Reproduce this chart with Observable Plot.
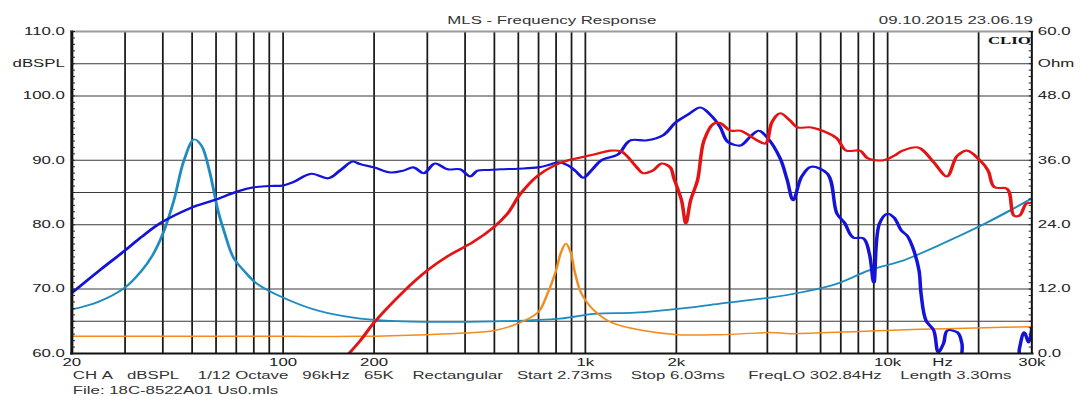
<!DOCTYPE html>
<html><head><meta charset="utf-8">
<script src="https://cdn.jsdelivr.net/npm/d3@7"></script>
<script src="https://cdn.jsdelivr.net/npm/@observablehq/plot@0.6"></script>
<style>
html,body{margin:0;padding:0;background:#fff;}
#chart svg{display:block;}
</style></head><body><div id="chart"></div>
<script>
// ---- data ----
const titleText = "MLS - Frequency Response";
const dateText = "09.10.2015 23.06.19";
const infoLine1 = "CH A   dBSPL    1/12 Octave   96kHz   65K    Rectangular   Start 2.73ms    Stop 6.03ms     FreqLO 302.84Hz    Length 3.30ms";
const infoLine2 = "File: 18C-8522A01 Us0.mls";

const xTickValues = [20, 50, 100, 200, 500, 1000, 2000, 5000, 10000, 15200, 30000];
const xTickLabels = ["20", "50", "100", "200", "500", "1k", "2k", "5k", "10k", "Hz", "30k"];
const gridFreqs = [30, 40, 50, 60, 70, 80, 90, 100, 200, 300, 400, 500, 600, 700, 800, 900, 1000,
  2000, 3000, 4000, 5000, 6000, 7000, 8000, 9000, 10000, 20000];
const dbTickValues = [60, 70, 80, 90, 100, 105, 110];
const dbTickLabels = ["60.0", "70.0", "80.0", "90.0", "100.0", "dBSPL", "110.0"];
const gridDb = [65, 70, 80, 85, 90, 100, 105];
const ohmTickValues = [0, 12, 24, 36, 48, 54, 60];
const ohmTickLabels = ["0.0", "12.0", "24.0", "36.0", "48.0", "Ohm", "60.0"];

// blue: SPL (woofer)
const blueFreq = [20, 25, 30, 34, 38.5, 44, 50, 59, 71, 80, 90, 100, 108, 124, 141, 155, 170, 180, 200,
  227, 250, 270, 292, 318, 350, 385, 416, 440, 480, 525, 600, 699, 760, 812, 878, 930, 984, 1050, 1130,
  1280, 1410, 1600, 1810, 1990, 2200, 2400, 2600, 2790, 2970, 3260, 3500, 3740, 4020, 4410, 4650, 4870,
  5200, 5600, 6300, 6800, 7200, 7700, 8300, 8700, 9000, 9400, 10000, 10500, 11100, 11600, 12100, 12700,
  12900, 13400, 14200, 14700, 15300, 15800, 17000, 17600, 18200, 26500, 27300, 28300, 29300, 30000];
const blueDb = [69.4, 73.1, 76.0, 78.1, 80.0, 81.5, 82.7, 83.8, 85.2, 85.8, 86.0, 86.1, 86.6, 87.9, 87.2, 88.5, 89.8, 89.4, 88.9,
  88.1, 88.4, 88.9, 88.0, 89.5, 88.6, 88.6, 87.5, 88.4, 88.5, 88.6, 88.7, 88.9, 89.3, 89.7, 89.2, 88.3, 87.3, 88.5, 90.0,
  90.9, 93.1, 93.1, 93.9, 95.9, 97.2, 98.2, 97.0, 95.2, 92.8, 92.3, 93.6, 94.6, 93.4, 90.3, 87.0, 83.8,
  87.5, 89.0, 88.0, 81.7, 80.3, 78.0, 77.9, 75.5, 71.0, 80.2, 81.7, 81.1, 79.1, 78.3, 76.5, 72.9,
  69.3, 65.1, 63.6, 60.2, 61.5, 63.6, 63.3, 61.6, 57.0, 57.0, 60.8, 63.3, 61.7, 64.0];

// red: SPL (tweeter)
const redFreq = [160, 180, 200, 250, 300, 350, 425, 497, 552, 610, 695, 790, 878, 1070, 1210, 1310, 1370, 1480,
  1550, 1670, 1790, 1910, 1960, 2080, 2150, 2230, 2350, 2470, 2660, 2790, 3020, 3260, 3700, 3940, 4140, 4410,
  4750, 5040, 5600, 6300, 6800, 7300, 8100, 8600, 9700, 10500, 11200, 12600, 14200, 15700, 17000, 18300,
  20200, 21500, 22600, 24800, 26200, 27300, 28800, 30000];
const redDb = [59.3, 62.0, 64.8, 69.6, 72.9, 75.1, 77.3, 79.6, 81.7, 84.8, 87.6, 89.2, 90.0, 90.9, 91.5, 91.4, 90.7, 88.9,
  88.0, 88.4, 89.5, 88.9, 87.3, 83.8, 80.2, 83.8, 86.9, 93.1, 95.7, 95.8, 94.6, 94.6, 93.1, 92.6, 95.9, 97.3,
  96.2, 95.1, 95.1, 94.3, 93.4, 91.5, 91.5, 90.3, 90.0, 90.7, 91.5, 92.0, 89.7, 87.5, 90.7, 91.5,
  90.0, 88.4, 85.8, 85.6, 81.4, 81.4, 83.3, 83.4];

// teal: impedance (woofer), Ohm
const tealFreq = [20, 24.4, 30, 34, 37, 40, 43.5, 47, 50.8, 53.6, 57, 60.9, 64, 68.6, 74, 82, 100, 130, 180, 250,
  500, 825, 1070, 1460, 2090, 2790, 4080, 5200, 6800, 8700, 11200, 12800, 16500, 21300, 25300, 30000];
const tealOhm = [8.2, 9.6, 12.3, 15.4, 18.3, 22.3, 28.5, 36.0, 39.9, 38.8, 34.1, 26.6, 22.5, 17.8, 15.5, 13.0, 10.4, 8.0, 6.5, 6.0,
  6.0, 6.5, 7.4, 7.6, 8.4, 9.3, 10.4, 11.4, 13.0, 15.5, 17.3, 18.6, 21.4, 24.4, 26.6, 28.9];

// orange: impedance (tweeter), Ohm
const orangeFreq = [20, 100, 180, 300, 400, 500, 600, 695, 750, 800, 830, 862, 895, 920, 970, 1070, 1240, 1550, 2030,
  2790, 4080, 4800, 8000, 12800, 21000, 30000];
const orangeOhm = [3.2, 3.2, 3.2, 3.5, 3.8, 4.3, 5.6, 7.6, 11.2, 15.5, 18.8, 20.5, 18.8, 15.5, 11.2, 8.0, 5.6, 4.3, 3.5,
  3.5, 3.9, 3.7, 4.1, 4.5, 4.8, 5.0];

// ---- layout ----
const W = 1083, H = 396;
const S = 1.68;                 // horizontal stretch of the original screenshot
const PW = W / S;
const ohmToDb = o => 60 + o / 1.2;
const nb = s => s.replace(/ /g, "\u00a0");

const blue = blueFreq.map((f, i) => ({f, v: blueDb[i]}));
const red = redFreq.map((f, i) => ({f, v: redDb[i]}));
const teal = tealFreq.map((f, i) => ({f, v: ohmToDb(tealOhm[i])}));
const orange = orangeFreq.map((f, i) => ({f, v: ohmToDb(orangeOhm[i])}));

const xLab = new Map(xTickValues.map((v, i) => [v, xTickLabels[i]]));
const dbLab = new Map(dbTickValues.map((v, i) => [v, dbTickLabels[i]]));
const ohmLab = new Map(ohmTickValues.map((v, i) => [ohmToDb(v), ohmTickLabels[i]]));

const lineOpts = {x: "f", y: "v", curve: "catmull-rom", clip: true};

const chart = Plot.plot({
  width: PW, height: H,
  marginLeft: 71 / S, marginRight: 52 / S, marginTop: 31, marginBottom: 43,
  style: {fontFamily: "'Liberation Sans', Arial, sans-serif", fontSize: "10px", color: "#222", background: "#fff"},
  x: {type: "log", domain: [20, 30000], label: null},
  y: {domain: [60, 110], label: null},
  marks: [
    Plot.gridX({ticks: gridFreqs, stroke: "#1a1a1a", strokeOpacity: 1, strokeWidth: 1.05}),
    Plot.gridY({ticks: gridDb, stroke: "#3a3a3a", strokeOpacity: 1, strokeWidth: 1}),
    Plot.line(teal, {...lineOpts, stroke: "#1e8cc0", strokeWidth: 1.7}),
    Plot.line(orange, {...lineOpts, stroke: "#f28c1c", strokeWidth: 1.5}),
    Plot.line(blue, {...lineOpts, stroke: "#1414d8", strokeWidth: 2.1}),
    Plot.line(red, {...lineOpts, stroke: "#e41414", strokeWidth: 2.1}),
    Plot.frame({anchor: "top", stroke: "#9a9a9a", strokeWidth: 2}),
    Plot.frame({anchor: "bottom", stroke: "#111", strokeWidth: 2}),
    Plot.frame({anchor: "left", stroke: "#111", strokeWidth: 1.8}),
    Plot.frame({anchor: "right", stroke: "#111", strokeWidth: 1.2}),
    // minor ticks (inside)
    Plot.axisY({anchor: "left", ticks: d3.range(60, 111, 1), tickSize: 4 / S, dx: 4 / S, text: null, stroke: "#222", label: null}),
    Plot.axisY({anchor: "right", ticks: d3.range(60, 111, 1), tickSize: 4 / S, dx: -4 / S, text: null, stroke: "#222", label: null}),
    // labels
    Plot.axisY({anchor: "left", ticks: dbTickValues, tickSize: 0, tickPadding: 7 / S, tickFormat: d => dbLab.get(d), fill: "#222", label: null}),
    Plot.axisY({anchor: "right", ticks: [...ohmLab.keys()], tickSize: 0, tickPadding: 6 / S, tickFormat: d => ohmLab.get(d), fill: "#222", label: null}),
    Plot.axisX({anchor: "bottom", ticks: xTickValues, tickSize: 0, tickPadding: 5, tickFormat: d => xLab.get(d), fill: "#222", label: null}),
    Plot.text([titleText], {text: d => d, frameAnchor: "top", dy: -15, fill: "#333", fontSize: 10}),
    Plot.text([dateText], {text: d => d, frameAnchor: "top-right", textAnchor: "end", dy: -15, dx: 1 / S, fill: "#333", fontSize: 10}),
    Plot.text(["CLIO"], {text: d => d, frameAnchor: "top-right", textAnchor: "end", dy: 5, dx: -1 / S, fill: "#111",
      fontSize: 10, fontWeight: "bold", fontFamily: "'Liberation Serif', 'Times New Roman', serif"}),
    Plot.text([nb(infoLine1)], {text: d => d, frameAnchor: "bottom-left", textAnchor: "start", dy: 25, dx: 1 / S, fill: "#333", fontSize: 10}),
    Plot.text([nb(infoLine2)], {text: d => d, frameAnchor: "bottom-left", textAnchor: "start", dy: 40, dx: 1 / S, fill: "#333", fontSize: 10})
  ]
});

chart.setAttribute("width", W);
chart.setAttribute("height", H);
chart.setAttribute("preserveAspectRatio", "none");
chart.style.width = W + "px";
chart.style.height = H + "px";
chart.style.maxWidth = "none";
document.getElementById("chart").appendChild(chart);
</script>
</body></html>
